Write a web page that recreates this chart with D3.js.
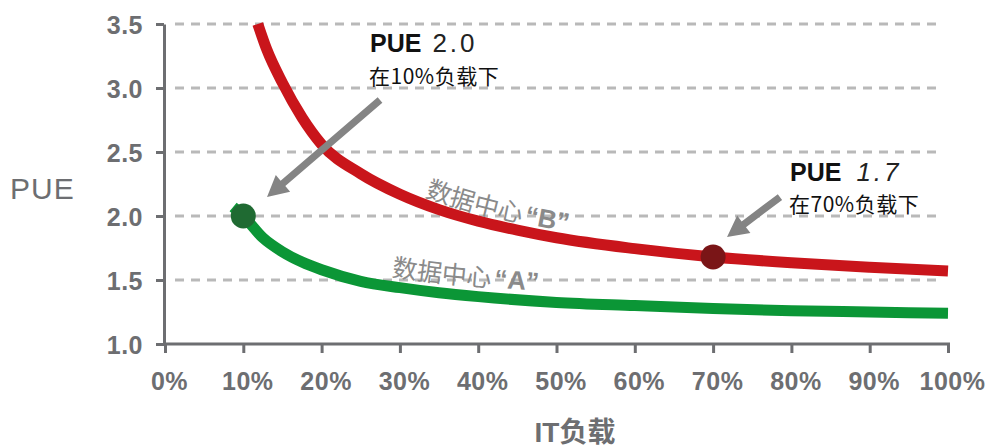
<!DOCTYPE html>
<html><head><meta charset="utf-8">
<script src="https://cdn.jsdelivr.net/npm/d3@7"></script>
<style>body{margin:0;background:#fff}svg{display:block}</style>
</head><body><svg id="c" width="992" height="447"></svg>
<script>
// ---- data ----
const xTicks = [0,10,20,30,40,50,60,70,80,90,100];
const xTickLabels = ["0%","10%","20%","30%","40%","50%","60%","70%","80%","90%","100%"];
const yTicks = [1.0,1.5,2.0,2.5,3.0,3.5];
const yTickLabels = ["1.0","1.5","2.0","2.5","3.0","3.5"];
const gridValues = [1.5,2.0,2.5,3.0,3.5];

const loadB = [11.85,13,15,17.5,20,25,30,35,40,45,50,60,70,80,90,100];
const pueB  = [3.50,3.30,3.04,2.77,2.56,2.33,2.17,2.05,1.96,1.89,1.83,1.745,1.68,1.635,1.60,1.57];
const loadA = [8.7,10,12.5,15,17.5,20,25,30,35,40,50,60,70,80,90,100];
const pueA  = [2.07,2.00,1.83,1.72,1.64,1.58,1.49,1.44,1.40,1.37,1.325,1.30,1.277,1.26,1.25,1.24];

const markerLoad = [10,70];
const markerPUE = [2.0,1.68];

const labelB = ["数据中心","“B”"];
const labelA = ["数据中心","“A”"];

const arrowFrom = [[27.46,2.906],[78.54,2.148]];
const arrowTo   = [[13.03,2.148],[71.78,1.836]];

const annLoad = [26.18,79.82];
const annPUE1 = [3.281,2.273];
const annPUE2 = [3.031,2.031];
const annValue = ["2.0","1.7"];
const annLine2 = ["在10%负载下","在70%负载下"];

// ---- chart ----
const svg = d3.select("#c");
const x = d3.scaleLinear().domain([0,100]).range([165,948]);
const y = d3.scaleLinear().domain([1,3.5]).range([344,24]);
const axisColor = "#6d6e71";
const latin = "'Liberation Sans', Arial, 'Noto Sans CJK SC', sans-serif";

// grid
svg.append("g").selectAll("line").data(gridValues).join("line")
  .attr("x1", x(0)+10).attr("x2", x(100)-5)
  .attr("y1", d=>y(d)).attr("y2", d=>y(d))
  .attr("stroke","#b9b9b9").attr("stroke-width",3).attr("stroke-dasharray","9 7");

// axes
const gy = svg.append("g").attr("transform",`translate(${x(0)-1},0)`)
  .call(d3.axisLeft(y).tickValues(yTicks).tickFormat((d,i)=>yTickLabels[i]).tickSize(8).tickSizeOuter(0).tickPadding(13));
const gx = svg.append("g").attr("transform",`translate(0,${y(1)})`)
  .call(d3.axisBottom(x).tickValues(xTicks).tickFormat((d,i)=>xTickLabels[i]).tickSize(9).tickSizeOuter(0).tickPadding(19));
[gy,gx].forEach(g=>{
  g.select(".domain").attr("stroke",axisColor).attr("stroke-width",3);
  g.selectAll(".tick line").attr("stroke",axisColor).attr("stroke-width",3);
  g.selectAll(".tick text").attr("fill",axisColor).attr("font-family",latin)
    .attr("font-weight","bold").attr("font-size",25).attr("letter-spacing","0.5px");
});
gx.selectAll(".tick text").attr("dx",4);
gy.selectAll(".tick text").attr("dy","0.36em");
gx.select(".domain").attr("d",`M${x(0)-1},0H${x(100)+2}`);

// axis titles
svg.append("text").attr("x",10).attr("y",199).text("PUE")
  .attr("font-family",latin).attr("font-size",30).attr("letter-spacing","1px").attr("fill",axisColor);
svg.append("text").attr("x",575).attr("y",442).attr("text-anchor","middle").text("IT负载")
  .attr("font-family",latin).attr("font-weight","bold").attr("font-size",28).attr("fill",axisColor);

// lines
const line = d3.line().x(d=>x(d[0])).y(d=>y(d[1])).curve(d3.curveMonotoneX);
const dataB = loadB.map((l,i)=>[l,pueB[i]]);
const dataA = loadA.map((l,i)=>[l,pueA[i]]);
svg.append("path").attr("d",line(dataA)).attr("fill","none").attr("stroke","#0b9636").attr("stroke-width",11);
svg.append("path").attr("d",line(dataB)).attr("fill","none").attr("stroke","#c9151b").attr("stroke-width",11);

// curve labels along paths
const defs = svg.append("defs");
function curveLabel(id, data, off, startX, parts){
  const l2 = d3.line().x(d=>x(d[0])).y(d=>y(d[1])-off).curve(d3.curveMonotoneX);
  const p = defs.append("path").attr("id",id).attr("d",l2(data));
  const node = p.node();
  const total = node.getTotalLength();
  let s = 0;
  for(let t=0;t<total;t+=0.5){ if(node.getPointAtLength(t).x>=startX){s=t;break;} }
  const tp = svg.append("text").attr("font-family","'Noto Sans CJK SC', sans-serif").attr("font-size",25)
    .attr("fill","#8a8a8a")
    .append("textPath").attr("href","#"+id).attr("startOffset",s);
  tp.append("tspan").text(parts[0]);
  tp.append("tspan").text(parts[1]).attr("dx",3).attr("font-family",latin).attr("font-weight","bold").attr("font-size",26);
}
curveLabel("pB", dataB, 8, 424, labelB);
curveLabel("pA", dataA, 10.5, 391, labelA);

// markers
svg.append("g").selectAll("circle").data(markerLoad).join("circle")
  .attr("cx",d=>x(d)).attr("cy",(d,i)=>y(markerPUE[i])).attr("r",12.5)
  .attr("fill",(d,i)=>i===0?"#1f6a32":"#7a1517");

// arrows
arrowFrom.forEach((f,i)=>{
  const T=[x(f[0]),y(f[1])], P=[x(arrowTo[i][0]),y(arrowTo[i][1])];
  const dx=P[0]-T[0], dy=P[1]-T[1], len=Math.hypot(dx,dy);
  const u=[dx/len,dy/len], n=[-u[1],u[0]];
  const L=21, W=11, s=3.6;
  const B=[P[0]-u[0]*L,P[1]-u[1]*L];
  const pts=[[T[0]+n[0]*s,T[1]+n[1]*s],[B[0]+n[0]*s,B[1]+n[1]*s],[B[0]+n[0]*W,B[1]+n[1]*W],P,
             [B[0]-n[0]*W,B[1]-n[1]*W],[B[0]-n[0]*s,B[1]-n[1]*s],[T[0]-n[0]*s,T[1]-n[1]*s]];
  svg.append("polygon").attr("points",pts.map(p=>p.join(",")).join(" ")).attr("fill","#848484");
});

// annotations
annLoad.forEach((a,i)=>{
  const t = svg.append("text").attr("x",x(a)).attr("y",y(annPUE1[i])).attr("fill","#111");
  t.append("tspan").text("PUE").attr("font-family",latin).attr("font-weight","bold").attr("font-size",25);
  t.append("tspan").text(annValue[i]).attr("dx",i===0?11:15).attr("font-family",latin)
    .attr("font-size",26).attr("letter-spacing","3px").attr("font-style",i===1?"italic":"normal").attr("fill","#222");
  svg.append("text").attr("x",x(a)-1).attr("y",y(annPUE2[i])).text(annLine2[i])
    .attr("font-family","'Noto Sans CJK SC', sans-serif").attr("font-size",21).attr("letter-spacing","0.5px").attr("fill","#111");
});
</script></body></html>
